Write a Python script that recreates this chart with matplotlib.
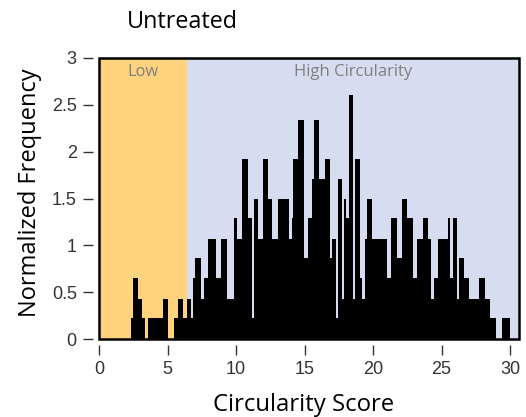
import numpy as np
import matplotlib.pyplot as plt
from matplotlib.patches import Rectangle

# histogram bin edges and normalized frequency
edges = [2.34, 2.48, 2.87, 3.16, 3.36, 3.55, 4.69, 5.06, 5.50, 5.74,
         6.15, 6.45, 6.74, 6.88, 7.01, 7.41, 7.69, 7.98, 8.52, 8.91,
         9.32, 9.88, 10.09, 10.44, 10.88, 11.15, 11.31, 11.63, 11.99, 12.36,
         12.65, 13.04, 13.87, 14.07, 14.18, 14.55, 14.99, 15.23, 15.53, 15.72,
         16.06, 16.50, 16.86, 17.03, 17.30, 17.47, 17.72, 17.88, 18.05, 18.25,
         18.56, 18.71, 19.05, 19.20, 19.39, 19.54, 19.91, 21.00, 21.29, 21.77,
         22.14, 22.50, 22.94, 23.23, 23.63, 24.01, 24.21, 24.47, 24.72, 25.45,
         25.64, 25.84, 26.11, 26.30, 26.64, 27.01, 27.74, 28.18, 28.54, 28.98,
         29.39, 30.00]
freq = [0.22, 0.65, 0.43, 0.22, 0.00, 0.22, 0.43, 0.00, 0.22, 0.43,
        0.22, 0.43, 0.22, 0.65, 0.86, 0.43, 0.65, 1.07, 0.65, 1.07,
        0.43, 1.29, 1.07, 1.92, 1.29, 0.22, 1.50, 1.07, 1.92, 1.50,
        1.07, 1.50, 1.07, 1.29, 1.92, 2.34, 0.86, 1.29, 1.71, 2.34,
        1.71, 1.92, 0.86, 1.07, 0.22, 1.71, 0.43, 1.50, 1.29, 2.60,
        0.43, 1.92, 0.65, 0.43, 1.07, 1.50, 1.07, 0.65, 1.29, 0.86,
        1.50, 1.29, 0.65, 1.07, 1.29, 1.07, 0.43, 0.65, 1.07, 1.29,
        0.65, 1.29, 0.43, 0.86, 0.65, 0.43, 0.65, 0.43, 0.22, 0.00,
        0.22]

low_cut = 6.42
x_max = 30.65
xticks = [0, 5, 10, 15, 20, 25, 30]
yticks = [0, 0.5, 1, 1.5, 2, 2.5, 3]
ytick_labels = ["0", "0.5", "1", "1.5", "2", "2.5", "3"]

label_font = "Open Sans"
tick_font = "Liberation Sans"

fig = plt.figure(figsize=(5.26, 4.17), dpi=100)
ax = fig.add_axes([99/526, 1 - 339/417, 420/526, 281/417])

# shaded regions
ax.axvspan(0, low_cut, color="#FFD27E", lw=0, zorder=0)
ax.axvspan(low_cut, x_max, color="#D7DDF0", lw=0, zorder=0)

ax.stairs(freq, edges, fill=True, color="black", lw=0, zorder=2)

ax.set_xlim(0, x_max)
ax.set_ylim(0, 3)

ax.text(low_cut/2, 2.855, "Low", ha="center", va="center",
        color="#7f7f7f", fontsize=11.8, family=label_font)
ax.text((low_cut + x_max)/2, 2.855, "High Circularity", ha="center", va="center",
        color="#7f7f7f", fontsize=12, family=label_font)

# ticks sit a little away from the frame, so move the spines out and draw the box by hand
for s in ax.spines.values():
    s.set_position(("outward", 4))
    s.set_visible(False)
ax.add_patch(Rectangle((0, 0), 1, 1, transform=ax.transAxes, fill=False,
                       ec="black", lw=1.8, clip_on=False, zorder=5))

ax.set_xticks(xticks)
ax.set_yticks(yticks)
ax.set_yticklabels(ytick_labels)
ax.tick_params(length=7, width=1, color="#333333", labelcolor="#333333",
               labelsize=13, pad=5)
for lab in ax.get_xticklabels() + ax.get_yticklabels():
    lab.set_family(tick_font)

fig.text(127/526, 1 - 28/417, "Untreated", ha="left", va="baseline",
         fontsize=16.8, family=label_font)
fig.text(304/526, 1 - 411/417, "Circularity Score", ha="center", va="baseline",
         fontsize=17.2, family=label_font)
fig.text(30/526, 1 - 193/417, "Normalized Frequency", ha="center", va="center",
         rotation=90, fontsize=17, family=label_font)

fig.savefig("out.png", dpi=100)
